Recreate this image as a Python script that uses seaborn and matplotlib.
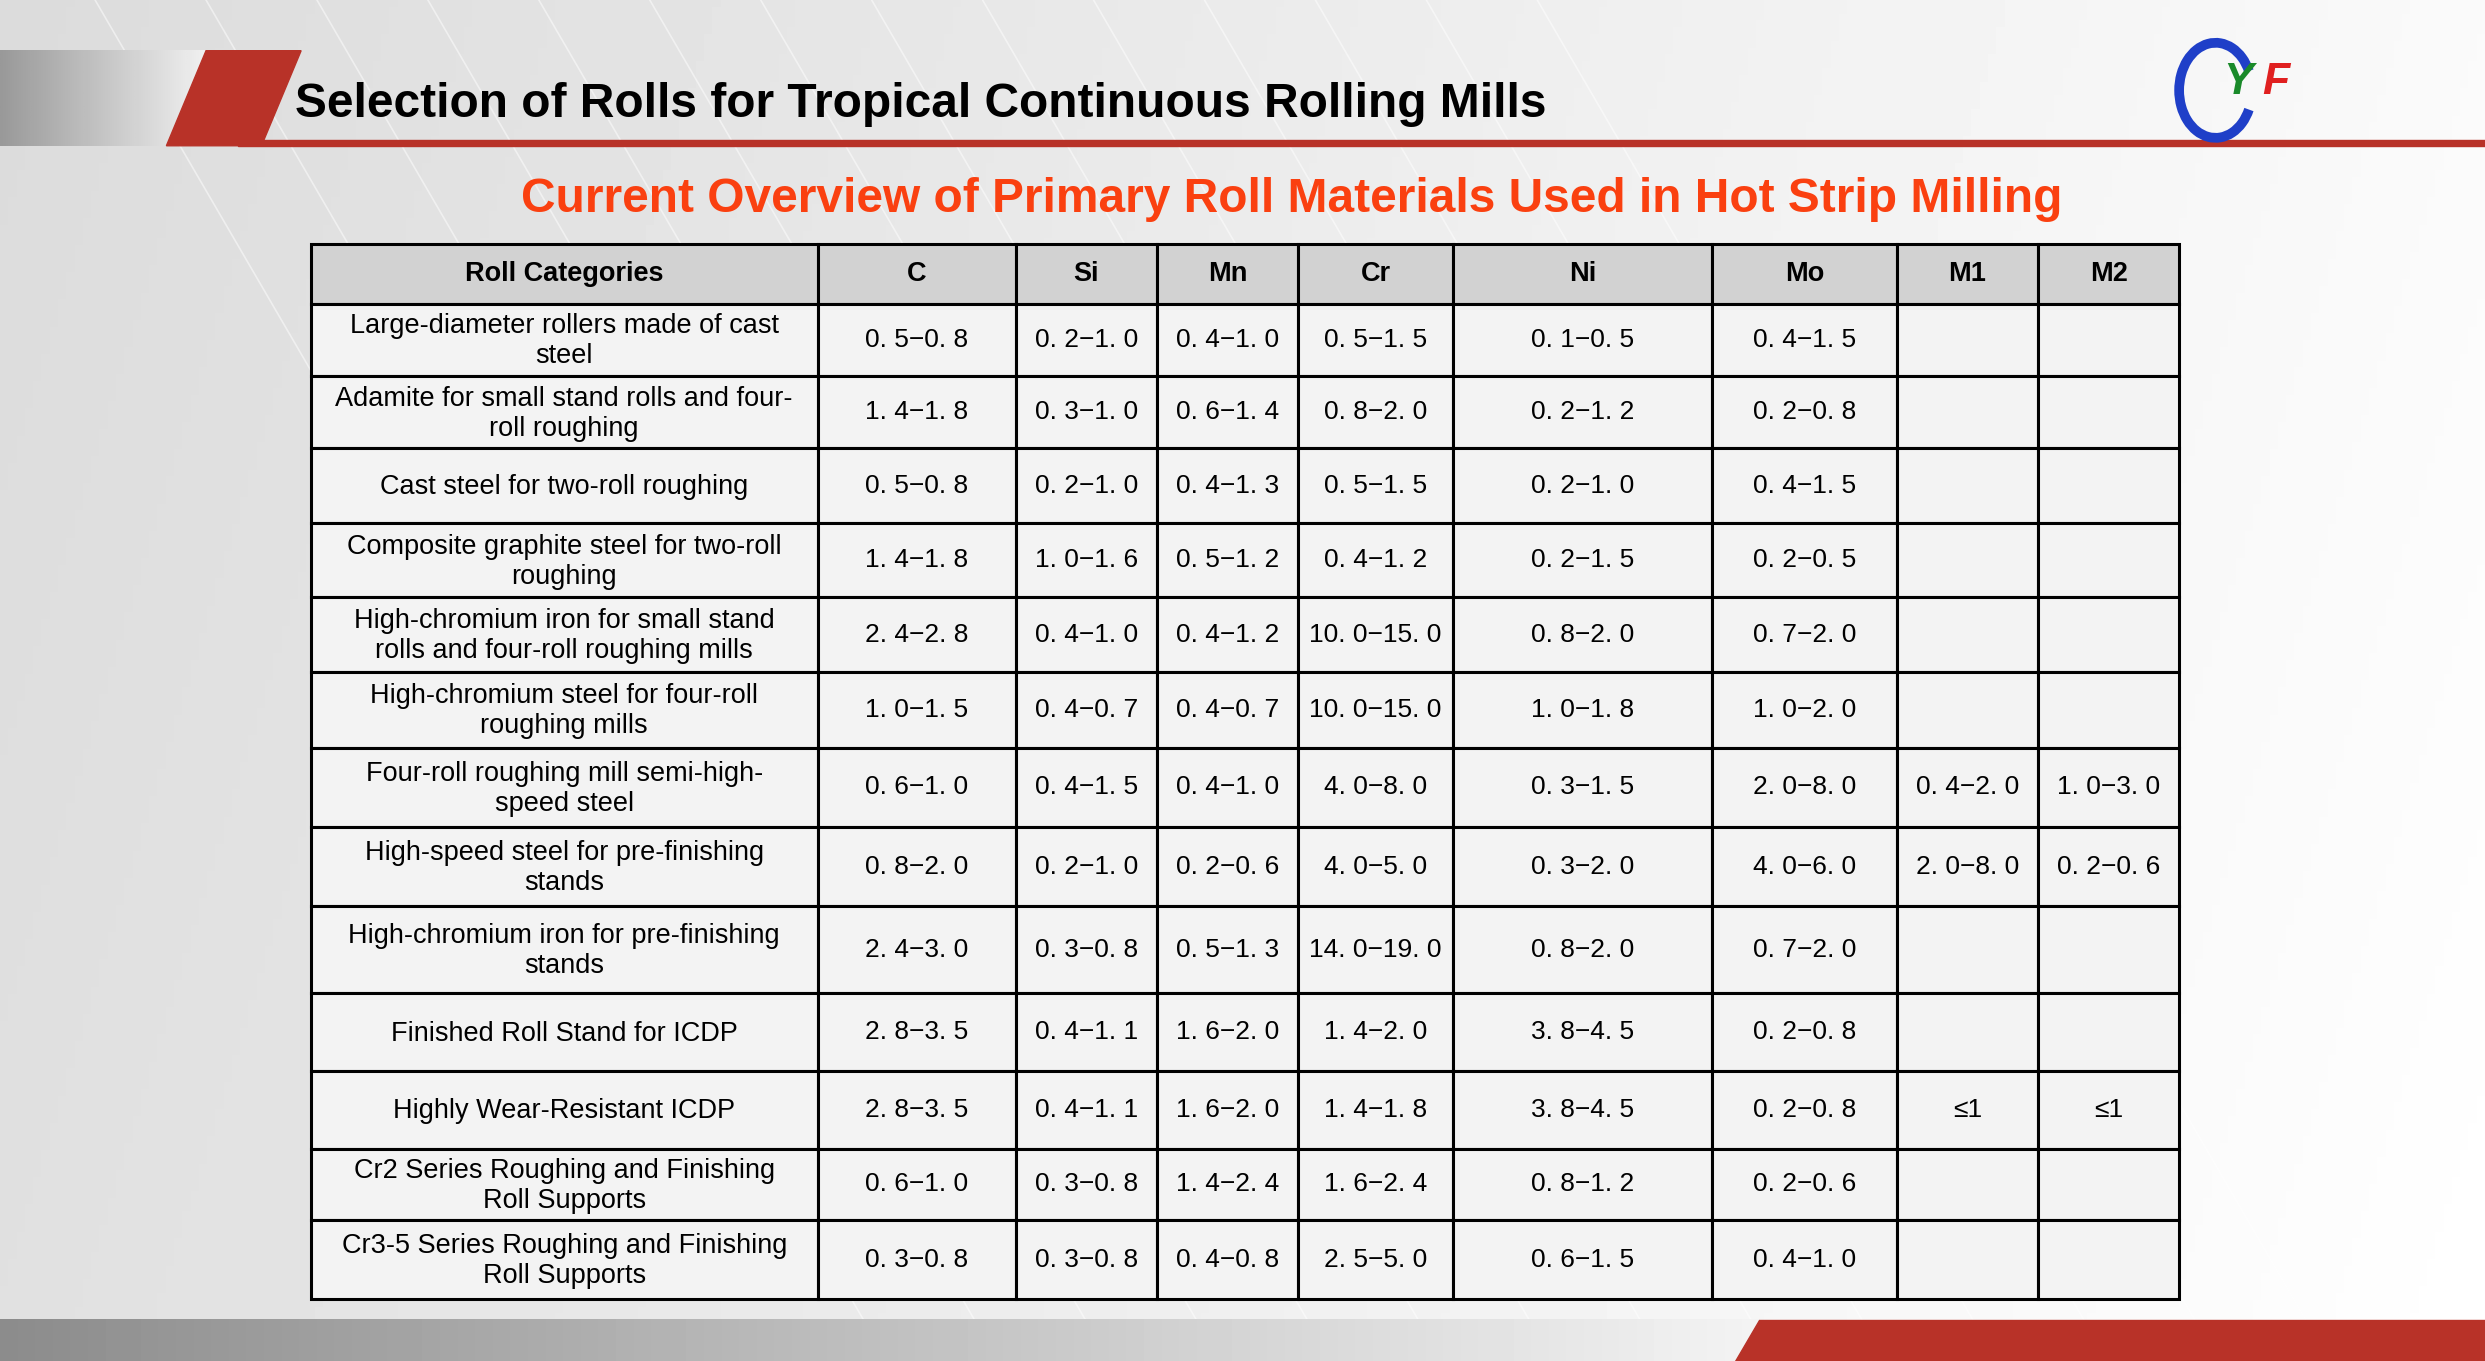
import numpy as np
import matplotlib.pyplot as plt
import seaborn as sns
from matplotlib.patches import Rectangle, Polygon, Arc

categories = [
    "Large-diameter rollers made of cast\nsteel",
    "Adamite for small stand rolls and four-\nroll roughing",
    "Cast steel for two-roll roughing",
    "Composite graphite steel for two-roll\nroughing",
    "High-chromium iron for small stand\nrolls and four-roll roughing mills",
    "High-chromium steel for four-roll\nroughing mills",
    "Four-roll roughing mill semi-high-\nspeed steel",
    "High-speed steel for pre-finishing\nstands",
    "High-chromium iron for pre-finishing\nstands",
    "Finished Roll Stand for ICDP",
    "Highly Wear-Resistant ICDP",
    "Cr2 Series Roughing and Finishing\nRoll Supports",
    "Cr3-5 Series Roughing and Finishing\nRoll Supports",
]
columns = ["Roll Categories", "C", "Si", "Mn", "Cr", "Ni", "Mo", "M1", "M2"]
c_vals = ["0.5-0.8", "1.4-1.8", "0.5-0.8", "1.4-1.8", "2.4-2.8", "1.0-1.5", "0.6-1.0",
          "0.8-2.0", "2.4-3.0", "2.8-3.5", "2.8-3.5", "0.6-1.0", "0.3-0.8"]
si_vals = ["0.2-1.0", "0.3-1.0", "0.2-1.0", "1.0-1.6", "0.4-1.0", "0.4-0.7", "0.4-1.5",
           "0.2-1.0", "0.3-0.8", "0.4-1.1", "0.4-1.1", "0.3-0.8", "0.3-0.8"]
mn_vals = ["0.4-1.0", "0.6-1.4", "0.4-1.3", "0.5-1.2", "0.4-1.2", "0.4-0.7", "0.4-1.0",
           "0.2-0.6", "0.5-1.3", "1.6-2.0", "1.6-2.0", "1.4-2.4", "0.4-0.8"]
cr_vals = ["0.5-1.5", "0.8-2.0", "0.5-1.5", "0.4-1.2", "10.0-15.0", "10.0-15.0", "4.0-8.0",
           "4.0-5.0", "14.0-19.0", "1.4-2.0", "1.4-1.8", "1.6-2.4", "2.5-5.0"]
ni_vals = ["0.1-0.5", "0.2-1.2", "0.2-1.0", "0.2-1.5", "0.8-2.0", "1.0-1.8", "0.3-1.5",
           "0.3-2.0", "0.8-2.0", "3.8-4.5", "3.8-4.5", "0.8-1.2", "0.6-1.5"]
mo_vals = ["0.4-1.5", "0.2-0.8", "0.4-1.5", "0.2-0.5", "0.7-2.0", "1.0-2.0", "2.0-8.0",
           "4.0-6.0", "0.7-2.0", "0.2-0.8", "0.2-0.8", "0.2-0.6", "0.4-1.0"]
m1_vals = ["", "", "", "", "", "", "0.4-2.0", "2.0-8.0", "", "", "≤1", "", ""]
m2_vals = ["", "", "", "", "", "", "1.0-3.0", "0.2-0.6", "", "", "≤1", "", ""]

title = "Selection of Rolls for Tropical Continuous Rolling Mills"
subtitle = "Current Overview of Primary Roll Materials Used in Hot Strip Milling"

# layout in slide units (1568 x 859)
col_edges = [196, 516, 641, 730, 819, 917, 1080, 1197, 1286, 1375]
row_edges = [154, 192, 237, 283, 330, 377, 424, 472, 522, 572, 627, 676, 725, 770, 820]

sns.set_theme(style="white")
fig = plt.figure(figsize=(24.85, 13.61), dpi=100)
ax = fig.add_axes([0, 0, 1, 1])
ax.set_xlim(0, 1568)
ax.set_ylim(859, 0)
ax.axis("off")

# background
gy, gx = np.mgrid[0:1:200j, 0:1:300j]
bg = 0.86 + 0.12 * gx + 0.02 * gy
ax.imshow(bg, extent=[0, 1568, 859, 0], cmap="gray", vmin=0, vmax=1, aspect="auto", zorder=0)
for k in range(14):
    x0 = 60 + k * 70
    ax.plot([x0, x0 + 500], [0, 859], color="white", lw=1.2, alpha=0.5, zorder=1)
    ax.add_patch(Arc((0, 1100), 900 + 120 * k, 900 + 120 * k, theta1=0, theta2=90,
                     color="white", lw=1.2, alpha=0.45, zorder=1))

# header band
grad = np.linspace(0.6, 0.97, 100).reshape(1, -1)
ax.imshow(grad, extent=[0, 140, 92, 32], cmap="gray", vmin=0, vmax=1, aspect="auto", zorder=2)
ax.add_patch(Polygon([[130, 32], [190, 32], [165, 92], [105, 92]], color="#b83228", zorder=3))
ax.add_patch(Rectangle((150, 88.5), 1418, 3.5, color="#b83228", zorder=3))
ax.text(186, 66, title, fontsize=34.5, fontweight="bold", color="black",
        family="Liberation Sans", va="center", ha="left", zorder=4)

# logo
ax.add_patch(Arc((1398, 57), 46, 60, theta1=30, theta2=330, color="#1f3fc8", lw=7, zorder=4))
ax.text(1412, 52, "Y", fontsize=32, fontweight="bold", color="#1a8a2a", style="italic",
        ha="center", va="center", family="Liberation Sans", zorder=5)
ax.text(1436, 52, "F", fontsize=32, fontweight="bold", color="#e02020", style="italic",
        ha="center", va="center", family="Liberation Sans", zorder=5)

ax.text(815, 126, subtitle, fontsize=34.5, fontweight="bold", color="#fa4010",
        family="Liberation Sans", ha="center", va="center", zorder=4)

# table
num_fam = ["Liberation Sans", "DejaVu Sans"]
table_cols = [categories, c_vals, si_vals, mn_vals, cr_vals, ni_vals, mo_vals, m1_vals, m2_vals]
for j in range(len(columns)):
    x0, x1 = col_edges[j], col_edges[j + 1]
    xc = (x0 + x1) / 2
    ax.add_patch(Rectangle((x0, row_edges[0]), x1 - x0, row_edges[1] - row_edges[0],
                           facecolor="#d2d2d2", edgecolor="black", lw=2.2, zorder=5))
    ax.text(xc, (row_edges[0] + row_edges[1]) / 2, columns[j], fontsize=19.5,
            fontweight="bold", family="Liberation Sans", color="black",
            ha="center", va="center", zorder=6)
    for i, val in enumerate(table_cols[j]):
        y0, y1 = row_edges[i + 1], row_edges[i + 2]
        ax.add_patch(Rectangle((x0, y0), x1 - x0, y1 - y0, facecolor="#f3f3f3",
                               edgecolor="black", lw=2.2, zorder=5))
        if j == 0:
            ax.text(xc, (y0 + y1) / 2 + 1, val, fontsize=19.5, family="Liberation Sans",
                    color="black", ha="center", va="center", linespacing=1.2, zorder=6)
        else:
            ax.text(xc, (y0 + y1) / 2, val.replace(".", ". ").replace("-", "\u2212"),
                    fontsize=19, family=num_fam, color="black",
                    ha="center", va="center", zorder=6)

# footer
fgrad = np.linspace(0.55, 0.95, 100).reshape(1, -1)
ax.imshow(fgrad, extent=[0, 1110, 859, 833], cmap="gray", vmin=0, vmax=1, aspect="auto", zorder=2)
ax.add_patch(Polygon([[1110, 833], [1568, 833], [1568, 859], [1095, 859]], color="#b83228", zorder=3))

fig.savefig("out.png", dpi=100)
